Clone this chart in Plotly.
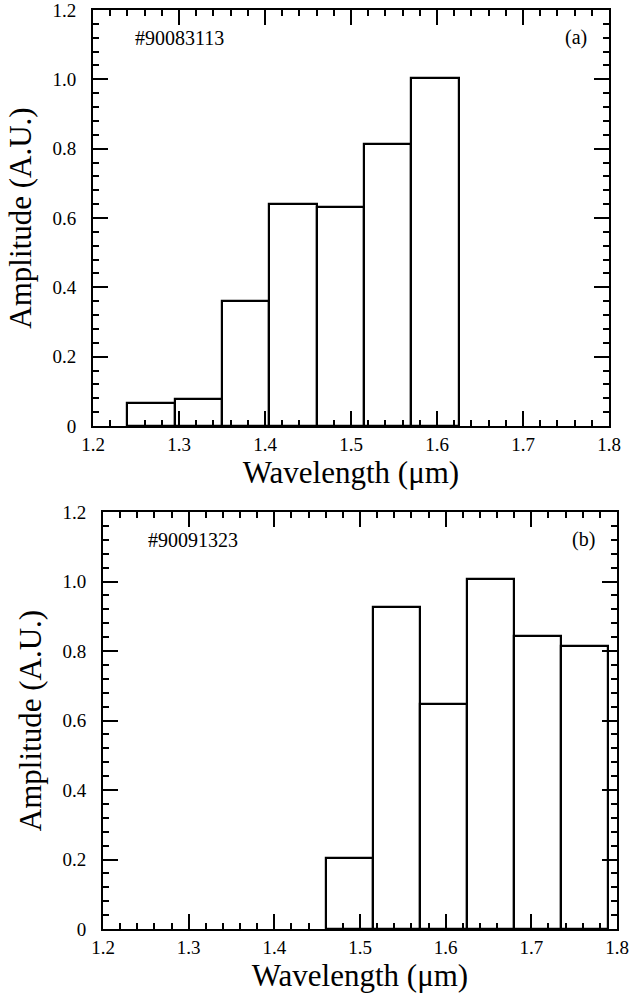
import plotly.graph_objects as go

# ---- data ----
bin_width = 0.055
bins_a = [1.24, 1.295, 1.35, 1.405, 1.46, 1.515, 1.57]          # left edges (µm)
amp_a = [0.066, 0.077, 0.36, 0.641, 0.632, 0.813, 1.005]
bins_b = [1.46, 1.515, 1.57, 1.625, 1.68, 1.735]
amp_b = [0.203, 0.927, 0.647, 1.008, 0.842, 0.813]

x_ticks = [1.2, 1.3, 1.4, 1.5, 1.6, 1.7, 1.8]
x_ticktext = ["1.2", "1.3", "1.4", "1.5", "1.6", "1.7", "1.8"]
y_ticks = [0, 0.2, 0.4, 0.6, 0.8, 1.0, 1.2]
y_ticktext = ["0", "0.2", "0.4", "0.6", "0.8", "1.0", "1.2"]

shot_a, label_a = "#90083113", "(a)"
shot_b, label_b = "#90091323", "(b)"
x_title = "Wavelength (μm)"
y_title = "Amplitude (A.U.)"

W, H = 635, 997
FONT = "Liberation Serif, Times New Roman, serif"

fig = go.Figure()
bar_style = dict(marker=dict(color="white", line=dict(color="black", width=2.2)),
                 width=bin_width, offset=0, showlegend=False, hoverinfo="x+y")
fig.add_trace(go.Bar(x=bins_a, y=amp_a, xaxis="x", yaxis="y", **bar_style))
fig.add_trace(go.Bar(x=bins_b, y=amp_b, xaxis="x2", yaxis="y2", **bar_style))


def xax(domain, anchor, standoff):
    return dict(domain=domain, anchor=anchor, range=[1.2, 1.8],
                showline=True, linecolor="black", linewidth=2, mirror="ticks",
                ticks="inside", ticklen=15, tickwidth=1.5, tickcolor="black",
                tickvals=x_ticks, ticktext=x_ticktext,
                tickfont=dict(family=FONT, size=19, color="black"),
                ticklabeloverflow="allow",
                minor=dict(ticks="inside", ticklen=6, tickwidth=1.5, tickcolor="black",
                           dtick=0.02, tick0=1.2, showgrid=False),
                showgrid=False, zeroline=False, automargin=False,
                title=dict(text=x_title, font=dict(family=FONT, size=31, color="black"),
                           standoff=standoff))


def yax(domain, anchor):
    return dict(domain=domain, anchor=anchor, range=[0, 1.2],
                showline=True, linecolor="black", linewidth=2, mirror="ticks",
                ticks="inside", ticklen=15, tickwidth=1.5, tickcolor="black",
                tickvals=y_ticks, ticktext=y_ticktext,
                tickfont=dict(family=FONT, size=19, color="black"),
                ticklabelstandoff=11, ticklabeloverflow="allow",
                minor=dict(ticks="inside", ticklen=6, tickwidth=1.5, tickcolor="black",
                           dtick=0.04, tick0=0, showgrid=False),
                showgrid=False, zeroline=False, automargin=False,
                title=dict(text=y_title, font=dict(family=FONT, size=31, color="black"),
                           standoff=12))


top_x = [93 / W, 609 / W]
top_y = [1 - 426 / H, 1 - 10 / H]
bot_x = [103 / W, 617 / W]
bot_y = [1 - 929 / H, 1 - 512 / H]

ann_font = dict(family=FONT, size=20, color="black")
annotations = [
    dict(text=shot_a, xref="x", yref="y", x=1.246, y=1.12, showarrow=False,
         xanchor="left", yanchor="middle", font=ann_font),
    dict(text=label_a, xref="x", yref="y", x=1.777, y=1.12, showarrow=False,
         xanchor="right", yanchor="middle", font=ann_font),
    dict(text=shot_b, xref="x2", yref="y2", x=1.25, y=1.12, showarrow=False,
         xanchor="left", yanchor="middle", font=ann_font),
    dict(text=label_b, xref="x2", yref="y2", x=1.777, y=1.12, showarrow=False,
         xanchor="right", yanchor="middle", font=ann_font),
]

fig.update_layout(
    width=W, height=H,
    margin=dict(l=0, r=0, t=0, b=0),
    paper_bgcolor="white", plot_bgcolor="white",
    bargap=0,
    xaxis=xax(top_x, "y", 6), yaxis=yax(top_y, "x"),
    xaxis2=xax(bot_x, "y2", 2), yaxis2=yax(bot_y, "x2"),
    annotations=annotations,
    showlegend=False,
)

fig.write_html("out.html",
               config={"displayModeBar": False},
               post_script="document.body.style.margin='0';"
                           "document.body.style.overflow='hidden';")
